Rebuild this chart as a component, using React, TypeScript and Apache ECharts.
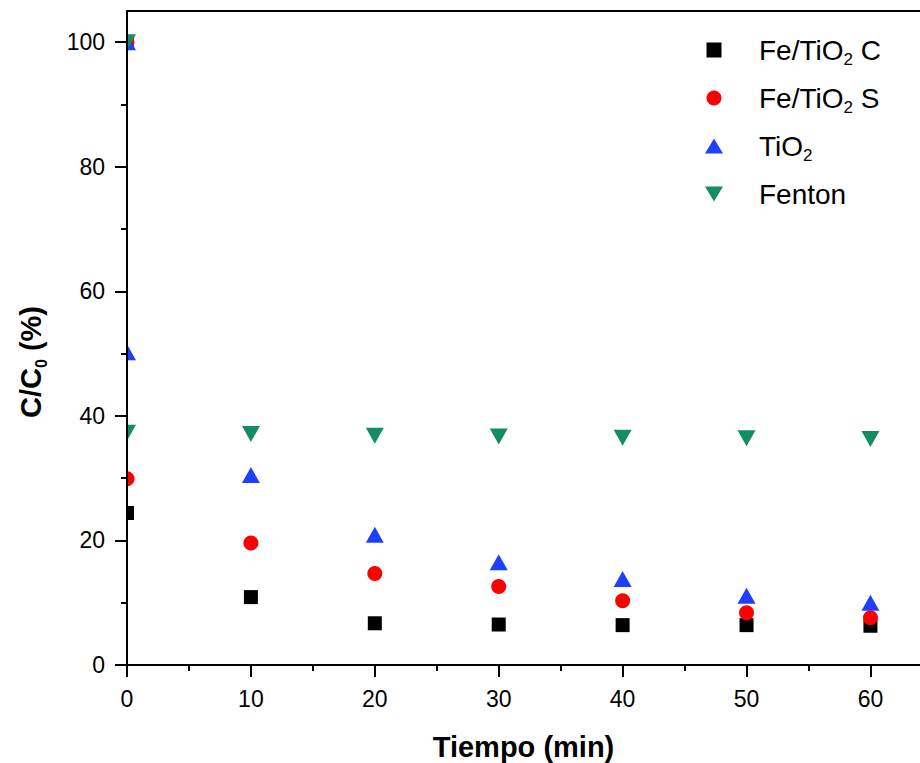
import React, { useEffect, useRef } from "react";
import * as echarts from "echarts";

const FONT = '"Liberation Sans", Arial, Helvetica, sans-serif';

// Sampling times (min); t = 0 appears twice: initial value and after dark adsorption
const times = [0, 0, 10, 20, 30, 40, 50, 60];

// Relative concentration C/C0 (%)
const feTiO2C = [100, 24.4, 10.9, 6.7, 6.5, 6.4, 6.4, 6.3];
const feTiO2S = [100, 29.9, 19.6, 14.7, 12.6, 10.3, 8.4, 7.6];
const tiO2 = [100, 50.2, 30.5, 20.9, 16.5, 13.8, 11.1, 10.0];
const fenton = [100, 37.3, 37.1, 36.8, 36.7, 36.5, 36.4, 36.3];

const seriesNames = ["Fe/TiO2 C", "Fe/TiO2 S", "TiO2", "Fenton"];
const legendLabels: Record<string, string> = {
  "Fe/TiO2 C": "{sp| }Fe/TiO{s|2} C",
  "Fe/TiO2 S": "{sp| }Fe/TiO{s|2} S",
  TiO2: "{sp| }TiO{s|2}",
  Fenton: "{sp| }Fenton",
};

const xMajorTicks = [0, 10, 20, 30, 40, 50, 60];
const xMinorTicks = [5, 15, 25, 35, 45, 55];
const yMajorTicks = [0, 20, 40, 60, 80, 100];
const yMinorTicks = [10, 30, 50, 70, 90];

const DOWN_TRIANGLE = "path://M0,0 L12,0 L6,10 Z";
const UP_TRIANGLE = "path://M6,0 L12,10 L0,10 Z";

const GRID_LEFT = 127;
const GRID_TOP = 11;
const GRID_HEIGHT = 654;
const X_MAX = 64;
const Y_MAX = 105;

const toPoints = (vals: number[]) => times.map((t, i) => [t, vals[i]]);

export default function App() {
  const ref = useRef<HTMLDivElement>(null);

  useEffect(() => {
    if (!ref.current) return;
    const chart = echarts.init(ref.current, undefined, { renderer: "svg" });

    const axisLine = { show: true, onZero: false, lineStyle: { color: "#000", width: 2 } };
    const labelStyle = { fontFamily: FONT, fontSize: 23, color: "#000" };
    const tickLine = { color: "#000", width: 2 };

    chart.setOption({
      animation: false,
      backgroundColor: "#fff",
      grid: {
        left: GRID_LEFT,
        top: GRID_TOP,
        right: 0,
        height: GRID_HEIGHT,
        show: false,
        containLabel: false,
        outerBoundsMode: "none",
      },
      xAxis: [
        {
          type: "value",
          min: 0,
          max: X_MAX,
          position: "bottom",
          z: 5,
          axisLine,
          axisTick: {
            show: true,
            inside: false,
            length: 12,
            lineStyle: tickLine,
            customValues: xMajorTicks,
          },
          axisLabel: { ...labelStyle, margin: 22, customValues: xMajorTicks },
          splitLine: { show: false },
          name: "Tiempo (min)",
          nameLocation: "middle",
          nameGap: 67,
          nameTextStyle: { fontFamily: FONT, fontSize: 29, fontWeight: "bold", color: "#000" },
        },
        {
          type: "value",
          min: 0,
          max: X_MAX,
          position: "bottom",
          z: 5,
          axisLine: { show: false, onZero: false },
          axisTick: {
            show: true,
            inside: false,
            length: 6,
            lineStyle: tickLine,
            customValues: xMinorTicks,
          },
          axisLabel: { show: false },
          splitLine: { show: false },
        },
        // top frame line
        {
          type: "value",
          min: 0,
          max: X_MAX,
          position: "top",
          z: 5,
          axisLine,
          axisTick: { show: false },
          axisLabel: { show: false },
          splitLine: { show: false },
        },
      ],
      yAxis: [
        {
          type: "value",
          min: 0,
          max: Y_MAX,
          position: "left",
          z: 5,
          axisLine,
          axisTick: {
            show: true,
            inside: false,
            length: 12,
            lineStyle: tickLine,
            customValues: yMajorTicks,
          },
          axisLabel: { ...labelStyle, margin: 22, customValues: yMajorTicks },
          splitLine: { show: false },
        },
        {
          type: "value",
          min: 0,
          max: Y_MAX,
          position: "left",
          z: 5,
          axisLine: { show: false, onZero: false },
          axisTick: {
            show: true,
            inside: false,
            length: 6,
            lineStyle: tickLine,
            customValues: yMinorTicks,
          },
          axisLabel: { show: false },
          splitLine: { show: false },
        },
      ],
      legend: {
        orient: "vertical",
        left: 705,
        top: 32,
        padding: 0,
        itemWidth: 18,
        itemHeight: 15,
        itemGap: 12,
        data: [
          { name: seriesNames[0], icon: "path://M0,0 L10,0 L10,10 L0,10 Z" },
          { name: seriesNames[1], icon: "circle" },
          { name: seriesNames[2], icon: UP_TRIANGLE },
          { name: seriesNames[3], icon: DOWN_TRIANGLE },
        ],
        formatter: (name: string) => legendLabels[name] ?? name,
        textStyle: {
          fontFamily: FONT,
          fontSize: 28,
          color: "#000",
          lineHeight: 36,
          rich: {
            sp: { width: 31, fontSize: 28, lineHeight: 36 },
            s: { fontFamily: FONT, fontSize: 17, lineHeight: 4, verticalAlign: "bottom", color: "#000" },
          },
        },
      },
      graphic: [
        // white strip left of the y axis so the t = 0 markers appear cut at the plot edge
        {
          type: "rect",
          z: 3,
          silent: true,
          shape: { x: GRID_LEFT - 16, y: 0, width: 15, height: GRID_TOP + GRID_HEIGHT },
          style: { fill: "#fff" },
        },
        {
          type: "text",
          x: 31,
          y: 362,
          rotation: Math.PI / 2,
          style: {
            text: "{b|C/C}{s|0}{b| (%)}",
            align: "center",
            verticalAlign: "middle",
            fill: "#000",
            rich: {
              b: { fontFamily: FONT, fontSize: 29, fontWeight: "bold", lineHeight: 36, fill: "#000" },
              s: {
                fontFamily: FONT,
                fontSize: 16,
                fontWeight: "bold",
                lineHeight: 2,
                verticalAlign: "bottom",
                fill: "#000",
              },
            },
          },
        },
      ],
      series: [
        {
          name: seriesNames[0],
          type: "scatter",
          data: toPoints(feTiO2C),
          symbol: "rect",
          symbolSize: 14,
          itemStyle: { color: "#000000", opacity: 1 },
          clip: true,
        },
        {
          name: seriesNames[1],
          type: "scatter",
          data: toPoints(feTiO2S),
          symbol: "circle",
          symbolSize: 15,
          itemStyle: { color: "#ff0000", opacity: 1 },
          clip: true,
        },
        {
          name: seriesNames[2],
          type: "scatter",
          data: toPoints(tiO2),
          symbol: UP_TRIANGLE,
          symbolSize: [18, 16],
          symbolKeepAspect: false,
          itemStyle: { color: "#1f3fff", opacity: 1 },
          clip: true,
        },
        {
          name: seriesNames[3],
          type: "scatter",
          data: toPoints(fenton),
          symbol: DOWN_TRIANGLE,
          symbolSize: [18, 16],
          symbolKeepAspect: false,
          itemStyle: { color: "#148c64", opacity: 1 },
          clip: true,
        },
      ],
    });

    return () => chart.dispose();
  }, []);

  return (
    <div
      ref={ref}
      style={{ position: "fixed", left: 0, top: 0, width: 920, height: 763, background: "#fff" }}
    />
  );
}
